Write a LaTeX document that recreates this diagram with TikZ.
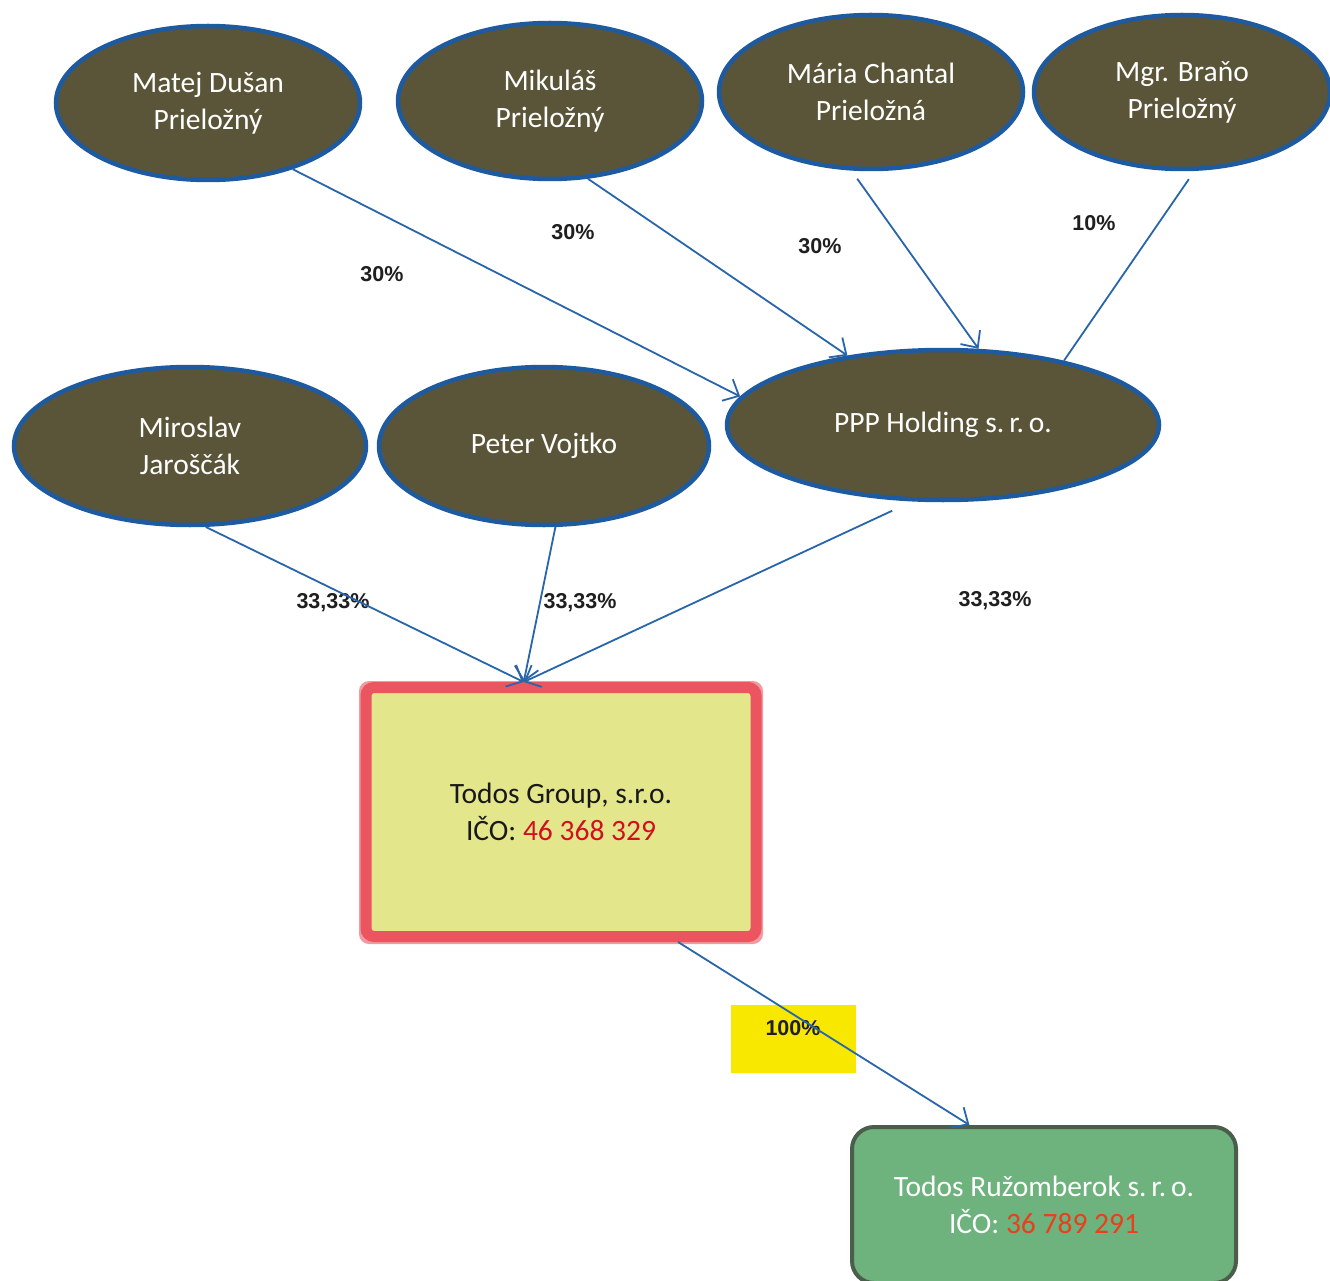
\documentclass[tikz,border=0pt]{standalone}
\usepackage{fontspec}
\setmainfont{Carlito}
\newfontfamily\arialfont{Liberation Sans}
\usetikzlibrary{shapes.geometric,arrows.meta}
\definecolor{ellfill}{HTML}{5A5538}
\definecolor{ellblue}{HTML}{1E5AA0}
\definecolor{lineblue}{HTML}{2865AA}
\definecolor{boxyellow}{HTML}{E4E68C}
\definecolor{boxred}{HTML}{EA5560}
\definecolor{boxglow}{HTML}{F29AA0}
\definecolor{icored}{HTML}{D01020}
\definecolor{ruzfill}{HTML}{6EB27D}
\definecolor{ruzborder}{HTML}{4B5E4B}
\definecolor{ruznum}{HTML}{E8401C}
\definecolor{labyellow}{HTML}{F8E800}
\begin{document}
\begin{tikzpicture}[x=1pt,y=-1pt,
  person/.style={ellipse, draw=ellblue, line width=4.5pt, fill=ellfill, text=white,
    font=\fontsize{29.5}{37}\selectfont, align=center, inner sep=0pt},
  pct/.style={font=\arialfont\bfseries\fontsize{21.5}{24}\selectfont, text=black!88, inner sep=0pt},
  conn/.style={draw=lineblue, line width=1.8pt, -{Straight Barb[length=13pt,width=24pt]}},
  plain/.style={draw=lineblue, line width=1.8pt}
]
\useasboundingbox (0,0) rectangle (1330,1281);
\fill[white] (0,0) rectangle (1330,1281);
\clip (0,0) rectangle (1330,1281);

% persons
\node[person, minimum width=304pt, minimum height=154pt] (matej) at (208,103) {Matej Dušan\\Prieložný};
\node[person, minimum width=304pt, minimum height=156pt] (mikulas) at (550,101) {Mikuláš\\Prieložný};
\node[person, minimum width=304pt, minimum height=154pt] (maria) at (871,92) {Mária Chantal\\Prieložná};
\node[person, minimum width=296pt, minimum height=154pt] (brano) at (1182,92) {Mgr. Braňo\\Prieložný};
\node[person, minimum width=352pt, minimum height=158pt] (miroslav) at (190,446) {Miroslav\\Jaroščák};
\node[person, minimum width=330pt, minimum height=158pt] (peter) at (544,446) {Peter Vojtko};
\node[person, minimum width=432pt, minimum height=150pt] (ppp) at (943,425) {PPP Holding s.\,r.\,o.};

% companies
\fill[boxglow, rounded corners=10pt] (359,681) rectangle (763,944);
\node[draw=boxred, line width=11pt, rounded corners=8pt, fill=boxyellow,
  minimum width=390pt, minimum height=249pt, align=center, text=black!90,
  font=\fontsize{29.5}{37}\selectfont, inner sep=0pt] (todos) at (561,812)
  {Todos Group, s.r.o.\\IČO: {\color{icored}46 368 329}};
\node[draw=ruzborder, line width=4pt, rounded corners=22pt, fill=ruzfill,
  minimum width=384pt, minimum height=156pt, align=center, text=white,
  font=\fontsize{29.5}{37}\selectfont, inner sep=0pt] (ruz) at (1044,1205)
  {Todos Ružomberok s.\,r.\,o.\\IČO: {\color{ruznum}36 789 291}};

% percentage labels
\node[pct] (l1) at (382,274) {30\%};
\node[pct] (l2) at (573,232) {30\%};
\node[pct] (l3) at (820,246) {30\%};
\node[pct] (l4) at (1094,223) {10\%};
\node[pct] (l5) at (333,603) {33,33\%};
\node[pct] (l6) at (580,603) {33,33\%};
\node[pct] (l7) at (995,601) {33,33\%};
\node[fill=labyellow, minimum width=125pt, minimum height=68pt, inner sep=0pt] (ybox) at (793.5,1039) {};
\node[pct] (l8) at (793,1028) {100\%};

% connectors
\draw[conn] (matej.-38) -- (ppp.172);
\draw[conn] (mikulas.-64) -- (ppp.144);
\draw[conn, shorten <=10pt] (maria.-104.6) -- (ppp.65.6);
\draw[plain, shorten <=10pt] (brano.-81.6) -- (ppp.28.4);
\draw[conn] (miroslav.-79.6) -- (todos.106);
\draw[conn] (peter.-82.5) -- (todos.106);
\draw[conn, shorten <=22pt] (ppp.-112) -- (todos.106);
\draw[conn] (todos.-48.5) -- (ruz.133.6);
\end{tikzpicture}
\end{document}
